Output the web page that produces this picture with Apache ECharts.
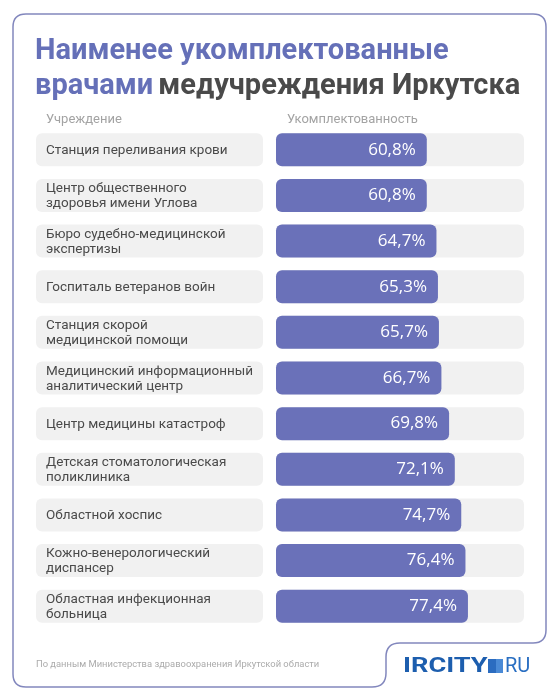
<!DOCTYPE html>
<html>
<head>
<meta charset="utf-8">
<script src="https://cdn.jsdelivr.net/npm/echarts@6/dist/echarts.min.js"></script>
<style>
	html, body { margin: 0; padding: 0; background: #fff; }
	#chart { width: 560px; height: 700px; }
</style>
</head>
<body>
<div id="chart"></div>
<script>
// institutions, top to bottom
const categories = [
	'Станция переливания крови',
	'Центр общественного\nздоровья имени Углова',
	'Бюро судебно-медицинской\nэкспертизы',
	'Госпиталь ветеранов войн',
	'Станция скорой\nмедицинской помощи',
	'Медицинский информационный\nаналитический центр',
	'Центр медицины катастроф',
	'Детская стоматологическая\nполиклиника',
	'Областной хоспис',
	'Кожно-венерологический\nдиспансер',
	'Областная инфекционная\nбольница',
]
// staffing level, %
const staffing = [60.8, 60.8, 64.7, 65.3, 65.7, 66.7, 69.8, 72.1, 74.7, 76.4, 77.4]

const blue = '#6a71b9'
const grey = '#f1f1f1'
const frame = { stroke: '#8287bd', lineWidth: 1.5, fill: 'none' }

// card outline with the notch for the logo
const line = (x1, y1, x2, y2) => ({ type: 'line', shape: { x1, y1, x2, y2 }, style: frame, silent: true })
const corner = (x1, y1, cpx1, cpy1, x2, y2) => ({
	type: 'bezierCurve',
	shape: { x1, y1, cpx1, cpy1, x2, y2 },
	style: frame,
	silent: true,
})
const outline = [
	line(26, 14, 533, 14),
	corner(533, 14, 546, 14, 546, 27),
	line(546, 27, 546, 630),
	corner(546, 630, 546, 643, 533, 643),
	line(533, 643, 400, 643),
	corner(400, 643, 386, 643, 386, 657),
	line(386, 657, 386, 673),
	corner(386, 673, 386, 687, 372, 687),
	line(372, 687, 26, 687),
	corner(26, 687, 13, 687, 13, 674),
	line(13, 674, 13, 27),
	corner(13, 27, 13, 14, 26, 14),
]

const logo = [
	{
		type: 'text',
		x: 403,
		y: 666.5,
		scaleX: 1.36,
		style: {
			text: 'IRCITY',
			fill: '#1d5eae',
			font: 'bold 20px Roboto',
			textVerticalAlign: 'middle',
		},
	},
	{
		type: 'rect',
		shape: { x: 488, y: 659, width: 15, height: 14 },
		style: {
			fill: new echarts.graphic.LinearGradient(0, 0, 1, 0, [
				{ offset: 0, color: '#2b6cc0' },
				{ offset: 0.5, color: '#2b6cc0' },
				{ offset: 0.5, color: '#4a8ad6' },
				{ offset: 1, color: '#4a8ad6' },
			]),
		},
	},
	{
		type: 'text',
		x: 505,
		y: 666.5,
		style: {
			text: 'RU',
			fill: '#2a6fc2',
			font: '20px Roboto',
			textVerticalAlign: 'middle',
		},
	},
]

const chart = echarts.init(document.getElementById('chart'))

const options = {
	animation: false,
	title: [
		{
			left: 35,
			top: 34,
			padding: 0,
			text: '{a|Наименее укомплектованные}\n{a|врачами} {b|медучреждения Иркутска}',
			textStyle: {
				rich: {
					a: { color: '#6570b8', fontSize: 29, fontWeight: 'bold', fontFamily: 'Roboto', lineHeight: 35 },
					b: { color: '#4a4a4a', fontSize: 29, fontWeight: 'bold', fontFamily: 'Roboto', lineHeight: 35 },
				},
			},
		},
		{
			left: 46,
			top: 113,
			padding: 0,
			text: 'Учреждение',
			textStyle: { color: '#a3a3a3', fontSize: 13, fontWeight: 'normal', fontFamily: 'Roboto' },
		},
		{
			left: 287,
			top: 113,
			padding: 0,
			text: 'Укомплектованность',
			textStyle: { color: '#a3a3a3', fontSize: 13, fontWeight: 'normal', fontFamily: 'Roboto' },
		},
		{
			left: 36,
			top: 660,
			padding: 0,
			text: 'По данным Министерства здравоохранения Иркутской области',
			textStyle: { color: '#ababab', fontSize: 9.4, fontWeight: 'normal', fontFamily: 'Roboto' },
		},
	],
	graphic: [...outline, ...logo],
	grid: [
		{ left: 36, width: 227, top: 127, height: 502 },
		{ left: 276, right: 36, top: 127, height: 502 },
	],
	xAxis: [
		{ gridIndex: 0, type: 'value', min: 0, max: 1, show: false },
		{ gridIndex: 1, type: 'value', min: 0, max: 100, show: false },
	],
	yAxis: [
		{ gridIndex: 0, type: 'category', data: categories, inverse: true, show: false },
		{ gridIndex: 1, type: 'category', data: categories, inverse: true, show: false },
	],
	series: [
		{
			type: 'bar',
			xAxisIndex: 0,
			yAxisIndex: 0,
			barWidth: 33,
			data: categories.map(() => 1),
			itemStyle: { color: grey, borderRadius: 6 },
			label: {
				show: true,
				position: 'insideLeft',
				distance: 10,
				offset: [0, 1],
				formatter: '{b}',
				color: '#4a4a4a',
				fontSize: 13.5,
				fontFamily: 'Roboto',
				lineHeight: 15,
			},
		},
		{
			type: 'bar',
			xAxisIndex: 1,
			yAxisIndex: 1,
			barWidth: 33,
			data: staffing,
			showBackground: true,
			backgroundStyle: { color: grey, borderRadius: 6 },
			itemStyle: { color: blue, borderRadius: 6 },
			label: {
				show: true,
				position: 'insideRight',
				distance: 11,
				formatter: (p) => p.value.toFixed(1).replace('.', ',') + '%',
				color: '#fff',
				fontSize: 17,
				fontFamily: 'Open Sans',
			},
		},
	],
}

chart.setOption(options)
</script>
</body>
</html>
